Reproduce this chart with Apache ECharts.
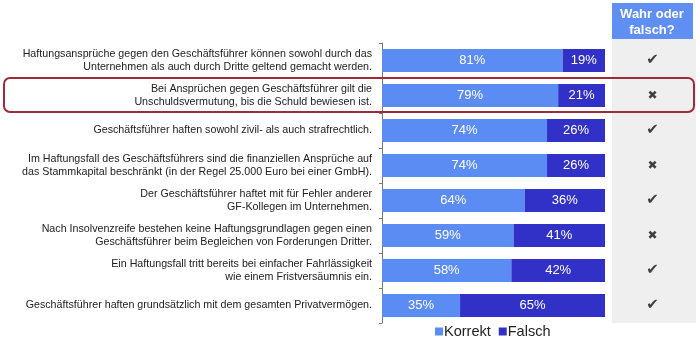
<!DOCTYPE html>
<html>
<head>
<meta charset="utf-8">
<script src="https://cdn.jsdelivr.net/npm/echarts@6/dist/echarts.min.js"></script>
<style>html,body{margin:0;padding:0;background:#fff;}#c{width:700px;height:345px;}</style>
</head>
<body>
<div id="c"></div>
<script>
const categories = [
  "Haftungsansprüche gegen den Geschäftsführer können sowohl durch das\nUnternehmen als auch durch Dritte geltend gemacht werden.",
  "Bei Ansprüchen gegen Geschäftsführer gilt die\nUnschuldsvermutung, bis die Schuld bewiesen ist.",
  "Geschäftsführer haften sowohl zivil- als auch strafrechtlich.",
  "Im Haftungsfall des Geschäftsführers sind die finanziellen Ansprüche auf\ndas Stammkapital beschränkt (in der Regel 25.000 Euro bei einer GmbH).",
  "Der Geschäftsführer haftet mit für Fehler anderer\nGF-Kollegen im Unternehmen.",
  "Nach Insolvenzreife bestehen keine Haftungsgrundlagen gegen einen\nGeschäftsführer beim Begleichen von Forderungen Dritter.",
  "Ein Haftungsfall tritt bereits bei einfacher Fahrlässigkeit\nwie einem Fristversäumnis ein.",
  "Geschäftsführer haften grundsätzlich mit dem gesamten Privatvermögen."
];
const korrekt = [81, 79, 74, 74, 64, 59, 58, 35];
const falsch = [19, 21, 26, 26, 36, 41, 42, 65];
const verdict = ["wahr", "falsch", "wahr", "falsch", "wahr", "falsch", "wahr", "wahr"];
const seriesNames = ["Korrekt", "Falsch"];
const panelTitle = "Wahr oder\nfalsch?";

const chart = echarts.init(document.getElementById('c'), null, {renderer: 'canvas'});
const font = "'Liberation Sans', Arial, sans-serif";
chart.setOption({
  animation: false,
  textStyle: {fontFamily: font},
  graphic: [
    {type: 'rect', shape: {x: 612, y: 39, width: 84, height: 284}, style: {fill: '#efefef'}, z: -10},
    {type: 'rect', shape: {x: 612, y: 3, width: 81, height: 36}, style: {fill: '#5f8ff3'}, z: -5},
    {type: 'text', x: 652, y: 22, style: {text: panelTitle, fill: '#fff', font: 'bold 13px ' + font, textAlign: 'center', textVerticalAlign: 'middle', lineHeight: 16}},
    {type: 'rect', shape: {x: 4, y: 78, width: 690, height: 34, r: 6}, style: {fill: 'none', stroke: '#9e2a3a', lineWidth: 2}, z: 100}
  ],
  legend: {
    data: seriesNames,
    left: 430, top: 319,
    itemWidth: 8, itemHeight: 8, itemGap: 8,
    icon: 'rect',
    textStyle: {fontSize: 14.5, color: '#222', padding: [0, 0, 0, -4]}
  },
  grid: [
    {left: 382, top: 43, width: 223, height: 280},
    {left: 612, top: 43, width: 81, height: 280}
  ],
  xAxis: [
    {type: 'value', min: 0, max: 100, show: false, gridIndex: 0},
    {type: 'value', min: 0, max: 1, show: false, gridIndex: 1}
  ],
  yAxis: [
    {
      type: 'category', data: categories, inverse: true, gridIndex: 0,
      axisLine: {show: true, lineStyle: {color: '#777'}},
      axisTick: {show: true, length: 3, lineStyle: {color: '#777'}},
      axisLabel: {fontSize: 10.7, color: '#222', lineHeight: 12.5, margin: 10, align: 'right'}
    },
    {type: 'category', data: categories, inverse: true, gridIndex: 1, show: false}
  ],
  series: [
    {
      name: seriesNames[0], type: 'bar', stack: 's', data: korrekt, barWidth: 23,
      itemStyle: {color: '#5b8cf4'},
      label: {show: true, position: 'inside', formatter: '{c}%', color: '#fff', fontSize: 13}
    },
    {
      name: seriesNames[1], type: 'bar', stack: 's', data: falsch, barWidth: 23,
      itemStyle: {color: '#3131c8'},
      label: {show: true, position: 'inside', formatter: '{c}%', color: '#fff', fontSize: 13}
    },
    {
      type: 'scatter', xAxisIndex: 1, yAxisIndex: 1, symbolSize: 0,
      data: verdict.map((v, i) => [0.5, i]),
      label: {
        show: true, position: 'inside',
        formatter: p => verdict[p.dataIndex] === 'wahr' ? '{c|✔}' : '{x|✖}',
        rich: {
          c: {fontSize: 15, color: '#111', fontFamily: 'DejaVu Sans'},
          x: {fontSize: 12, color: '#111', fontFamily: 'DejaVu Sans'}
        }
      }
    }
  ]
});
</script>
</body>
</html>
